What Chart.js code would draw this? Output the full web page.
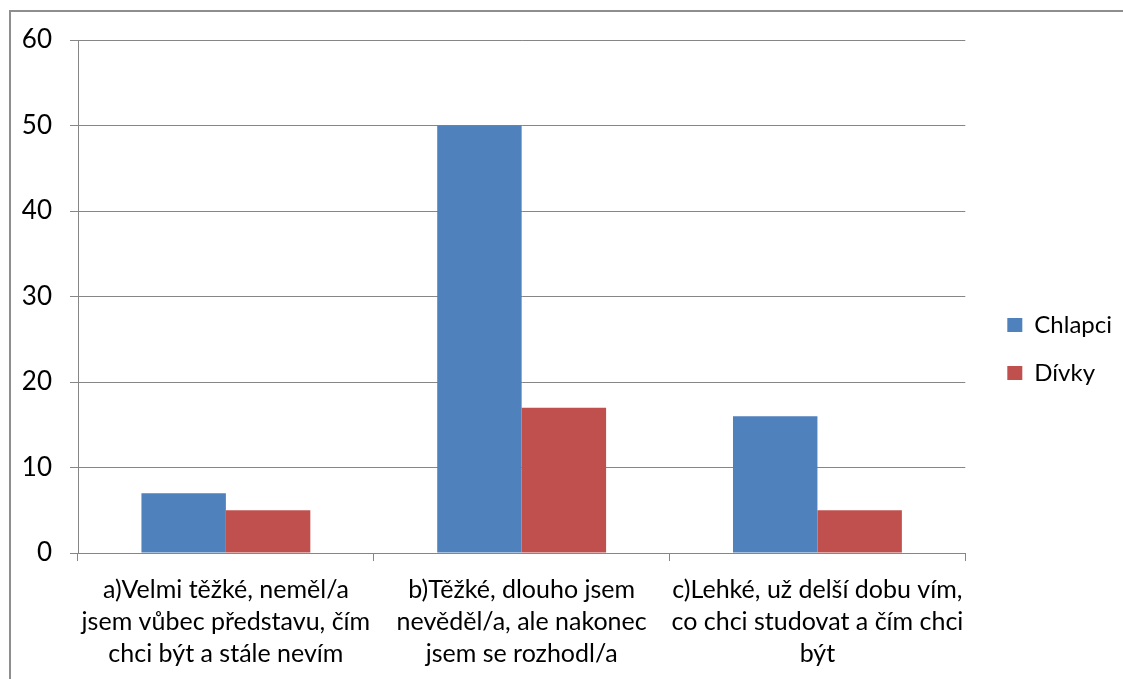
<!DOCTYPE html>
<html>
<head>
<meta charset="utf-8">
<script src="https://cdn.jsdelivr.net/npm/chart.js@4/dist/chart.umd.min.js"></script>
<style>
  html, body { margin: 0; padding: 0; background: #ffffff; overflow: hidden; width: 1123px; height: 679px; }
  canvas { display: block; }
</style>
</head>
<body>
<canvas id="c" width="1123" height="679"></canvas>
<script>
const categories = [
  ["a)Velmi těžké, neměl/a", "jsem vůbec představu, čím", "chci být a stále nevím"],
  ["b)Těžké, dlouho jsem", "nevěděl/a, ale nakonec", "jsem se rozhodl/a"],
  ["c)Lehké, už delší dobu vím,", "co chci studovat a čím chci", "být"]
];
const seriesNames = ["Chlapci", "Dívky"];
const chlapci = [7, 50, 16];
const divky = [5, 17, 5];
const yMin = 0;
const yMax = 60;
const yStep = 10;

const FONT = "Lato, 'Open Sans', sans-serif";
const gridColor = '#868686';

const framePlugin = {
  id: 'frame',
  beforeDraw(chart) {
    const ctx = chart.ctx;
    ctx.save();
    ctx.fillStyle = '#ffffff';
    ctx.fillRect(0, 0, chart.width, chart.height);
    ctx.strokeStyle = '#8e8e8e';
    ctx.lineWidth = 2;
    ctx.beginPath();
    ctx.moveTo(10, chart.height + 5);
    ctx.lineTo(10, 11);
    ctx.lineTo(chart.width + 5, 11);
    ctx.stroke();
    ctx.restore();
  }
};

new Chart(document.getElementById('c'), {
  type: 'bar',
  plugins: [framePlugin],
  data: {
    labels: categories,
    datasets: [
      { label: seriesNames[0], data: chlapci, backgroundColor: '#4F81BD', borderWidth: 0 },
      { label: seriesNames[1], data: divky, backgroundColor: '#C0504D', borderWidth: 0 }
    ]
  },
  options: {
    responsive: false,
    animation: false,
    devicePixelRatio: 1,
    layout: { padding: { top: 19, bottom: 0, left: 0, right: 1 } },
    datasets: { bar: { barPercentage: 1.0, categoryPercentage: 0.571 } },
    plugins: {
      tooltip: { enabled: false },
      legend: {
        position: 'right',
        align: 'center',
        labels: {
          boxWidth: 15,
          boxHeight: 14,
          padding: 24,
          color: '#000000',
          font: { family: FONT, size: 24 }
        }
      }
    },
    scales: {
      x: {
        offset: true,
        grid: { display: true, drawOnChartArea: false, drawTicks: true, tickLength: 8, color: gridColor, offset: true },
        border: { display: true, color: gridColor, width: 1 },
        ticks: {
          color: '#000000',
          font: { family: FONT, size: 25, lineHeight: '32px' },
          padding: 13,
          maxRotation: 0,
          minRotation: 0,
          autoSkip: false
        },
        afterFit(scale) { scale.height = 126; }
      },
      y: {
        min: yMin,
        max: yMax,
        grid: { color: gridColor, lineWidth: 1, drawTicks: true, tickLength: 8 },
        border: { display: true, color: gridColor, width: 1 },
        ticks: {
          stepSize: yStep,
          color: '#000000',
          font: { family: FONT, size: 26, lineHeight: '44px' },
          padding: 18
        },
        afterFit(scale) { scale.width = 78; }
      },
      spacer: {
        type: 'linear',
        position: 'right',
        display: true,
        grid: { display: false },
        border: { display: false },
        ticks: { display: false },
        afterFit(scale) { scale.width = 18; }
      }
    }
  }
});
</script>
</body>
</html>
